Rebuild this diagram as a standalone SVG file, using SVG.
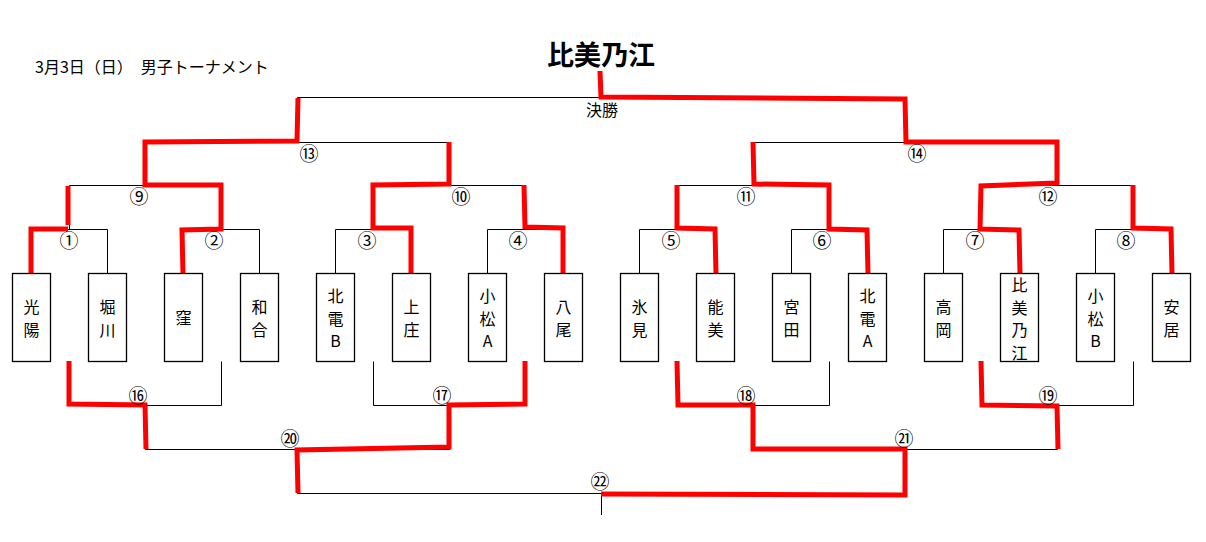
<svg xmlns="http://www.w3.org/2000/svg" width="1206" height="542" viewBox="0 0 1206 542">
<style>
text{font-family:"Noto Sans CJK JP","Noto Sans CJK SC",sans-serif;fill:#000}
.ln{stroke:#000;stroke-width:1;fill:none}
.win{stroke:#ff0000;stroke-width:5;fill:none;stroke-linejoin:miter;stroke-linecap:butt}
.box{fill:#fff;stroke:#000;stroke-width:1.3}
.nm{font-size:16px;text-anchor:middle}
.no{font-size:19px;text-anchor:middle}
</style>
<rect width="1206" height="542" fill="#fff"/>
<text x="35" y="73" font-size="16">3月3日（日）　男子トーナメント</text>
<text id="champion" x="601" y="64.5" font-size="27" font-weight="bold" text-anchor="middle">比美乃江</text>

<g id="connectors">
  <path class="ln" d="M31.5,273.5V229.5H107.5V273.5M183.5,273.5V229.5H259.5V273.5M335.5,273.5V229.5H411.5V273.5M487.5,273.5V229.5H563.5V273.5M639.5,273.5V229.5H715.5V273.5M791.5,273.5V229.5H867.5V273.5M943.5,273.5V229.5H1019.5V273.5M1095.5,273.5V229.5H1171.5V273.5"/>
  <path class="ln" d="M69.5,229.5V185.5H221.5V229.5M373.5,229.5V185.5H525.5V229.5M677.5,229.5V185.5H829.5V229.5M981.5,229.5V185.5H1133.5V229.5"/>
  <path class="ln" d="M145.5,185.5V142.5H449.5V185.5M753.5,185.5V142.5H1057.5V185.5M297.5,142.5V97.5H905.5V142.5"/>
  <path class="ln" d="M69.5,361.5V405.5H221.5V361.5M373.5,361.5V405.5H525.5V361.5M677.5,361.5V405.5H829.5V361.5M981.5,361.5V405.5H1133.5V361.5"/>
  <path class="ln" d="M145.5,405.5V449.5H449.5V405.5M753.5,405.5V449.5H1057.5V405.5M297.5,449.5V493.5H905.5V449.5M601.5,493.5V515"/>

  <path class="win" d="M31,274L31,229L68,229M68,225L68,186"/>
  <path class="win" d="M183,274L182,230L221,229L221,185L145,185L145,142L297,141L298,98"/>
  <path class="win" d="M411,274L411,228L373,228L373,185L449,184L449,142"/>
  <path class="win" d="M563,274L563,228L525,227L524,185"/>
  <path class="win" d="M600,71L601,97L905,99L906,142L1057,142L1057,183L981,186L980,229L1019,230L1020,274"/>
  <path class="win" d="M753,142L754,184L829,185L829,229L867,230L868,274"/>
  <path class="win" d="M677,185L677,228L715,229L716,274"/>
  <path class="win" d="M1133,185L1133,228L1171,229L1172,274"/>
  <path class="win" d="M69,361L69,404L145,405L146,449"/>
  <path class="win" d="M525,361L525,404L449,405L449,447L297,450L298,493"/>
  <path class="win" d="M601,494L905,495L905,449L753,449L753,405L678,405L677,361"/>
  <path class="win" d="M981,361L982,405L1057,406L1058,449"/>

  <g class="no">
    <text x="69" y="248">①</text>
    <text x="214" y="248">②</text>
    <text x="367" y="248">③</text>
    <text x="518" y="248">④</text>
    <text x="671" y="248">⑤</text>
    <text x="822" y="248">⑥</text>
    <text x="975" y="248">⑦</text>
    <text x="1126" y="248">⑧</text>
    <text x="139" y="204">⑨</text>
    <text x="461" y="204">⑩</text>
    <text x="746" y="204">⑪</text>
    <text x="1048" y="204">⑫</text>
    <text x="309" y="161">⑬</text>
    <text x="917" y="161">⑭</text>
    <text x="138" y="403">⑯</text>
    <text x="442" y="403">⑰</text>
    <text x="746" y="403">⑱</text>
    <text x="1048" y="403">⑲</text>
    <text x="290" y="446">⑳</text>
    <text x="904" y="446">㉑</text>
    <text x="600" y="489">㉒</text>
  </g>
  <text x="602" y="116" font-size="16" text-anchor="middle">決勝</text>
</g>

<g id="team-koyo"><rect class="box" x="12.5" y="273.5" width="38" height="88"/><text class="nm"><tspan x="31.5" y="313">光</tspan><tspan x="31.5" y="335.5">陽</tspan></text></g>
<g id="team-horikawa"><rect class="box" x="88.5" y="273.5" width="38" height="88"/><text class="nm"><tspan x="107.5" y="313">堀</tspan><tspan x="107.5" y="335.5">川</tspan></text></g>
<g id="team-kubo"><rect class="box" x="164.5" y="273.5" width="38" height="88"/><text class="nm"><tspan x="183.5" y="324">窪</tspan></text></g>
<g id="team-wago"><rect class="box" x="240.5" y="273.5" width="38" height="88"/><text class="nm"><tspan x="259.5" y="313">和</tspan><tspan x="259.5" y="335.5">合</tspan></text></g>
<g id="team-hokuden-b"><rect class="box" x="316.5" y="273.5" width="38" height="88"/><text class="nm"><tspan x="335.5" y="302">北</tspan><tspan x="335.5" y="324.5">電</tspan><tspan x="335.5" y="347">B</tspan></text></g>
<g id="team-kamisho"><rect class="box" x="392.5" y="273.5" width="38" height="88"/><text class="nm"><tspan x="411.5" y="313">上</tspan><tspan x="411.5" y="335.5">庄</tspan></text></g>
<g id="team-komatsu-a"><rect class="box" x="468.5" y="273.5" width="38" height="88"/><text class="nm"><tspan x="487.5" y="302">小</tspan><tspan x="487.5" y="324.5">松</tspan><tspan x="487.5" y="347">A</tspan></text></g>
<g id="team-yao"><rect class="box" x="544.5" y="273.5" width="38" height="88"/><text class="nm"><tspan x="563.5" y="313">八</tspan><tspan x="563.5" y="335.5">尾</tspan></text></g>
<g id="team-himi"><rect class="box" x="620.5" y="273.5" width="38" height="88"/><text class="nm"><tspan x="639.5" y="313">氷</tspan><tspan x="639.5" y="335.5">見</tspan></text></g>
<g id="team-nomi"><rect class="box" x="696.5" y="273.5" width="38" height="88"/><text class="nm"><tspan x="715.5" y="313">能</tspan><tspan x="715.5" y="335.5">美</tspan></text></g>
<g id="team-miyata"><rect class="box" x="772.5" y="273.5" width="38" height="88"/><text class="nm"><tspan x="791.5" y="313">宮</tspan><tspan x="791.5" y="335.5">田</tspan></text></g>
<g id="team-hokuden-a"><rect class="box" x="848.5" y="273.5" width="38" height="88"/><text class="nm"><tspan x="867.5" y="302">北</tspan><tspan x="867.5" y="324.5">電</tspan><tspan x="867.5" y="347">A</tspan></text></g>
<g id="team-takaoka"><rect class="box" x="924.5" y="273.5" width="38" height="88"/><text class="nm"><tspan x="943.5" y="313">高</tspan><tspan x="943.5" y="335.5">岡</tspan></text></g>
<g id="team-hibinoe"><rect class="box" x="1000.5" y="273.5" width="38" height="88"/><text class="nm"><tspan x="1019.5" y="291">比</tspan><tspan x="1019.5" y="313.5">美</tspan><tspan x="1019.5" y="336">乃</tspan><tspan x="1019.5" y="358.5">江</tspan></text></g>
<g id="team-komatsu-b"><rect class="box" x="1076.5" y="273.5" width="38" height="88"/><text class="nm"><tspan x="1095.5" y="302">小</tspan><tspan x="1095.5" y="324.5">松</tspan><tspan x="1095.5" y="347">B</tspan></text></g>
<g id="team-yasui"><rect class="box" x="1152.5" y="273.5" width="38" height="88"/><text class="nm"><tspan x="1171.5" y="313">安</tspan><tspan x="1171.5" y="335.5">居</tspan></text></g>
</svg>
